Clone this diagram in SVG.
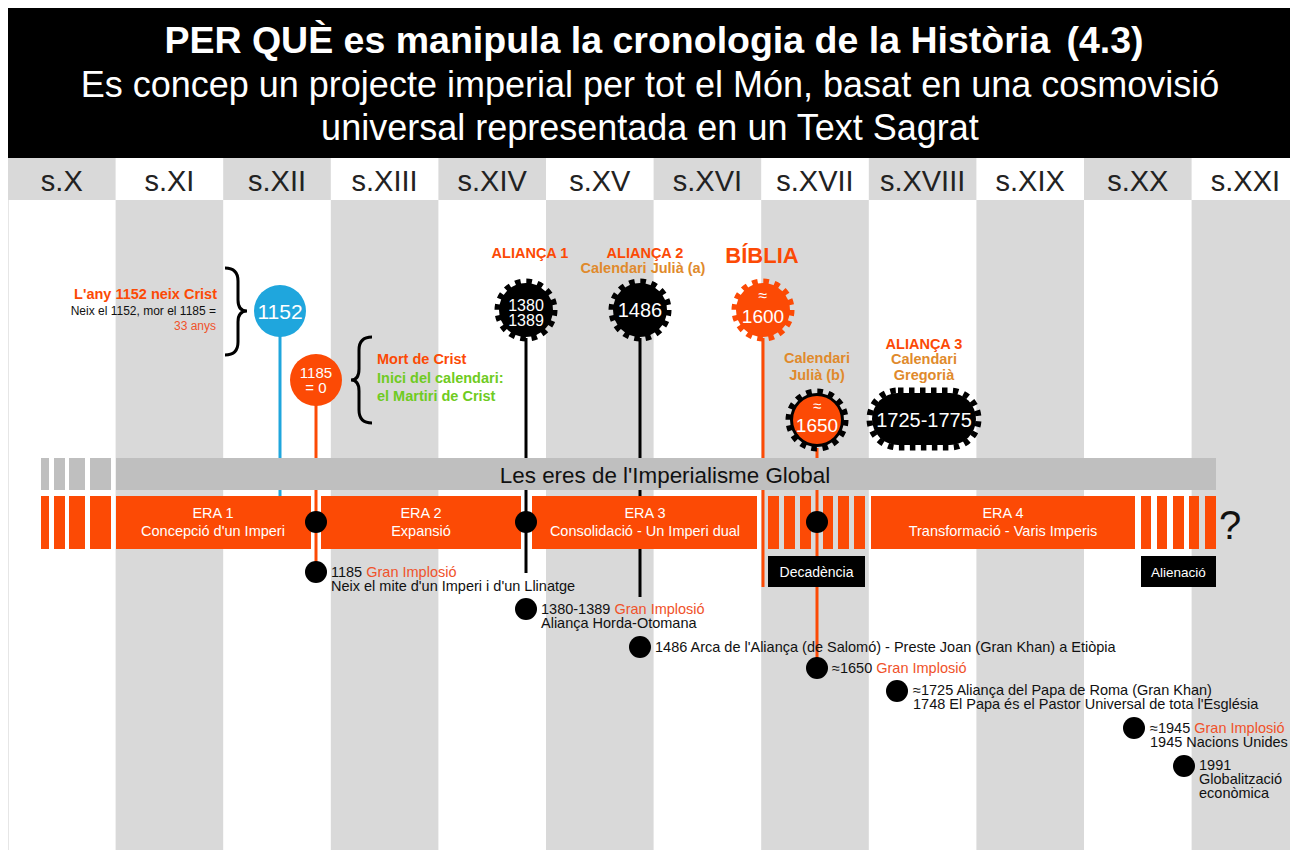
<svg xmlns="http://www.w3.org/2000/svg" width="1290" height="850" viewBox="0 0 1290 850">
<defs>
<style>
text{font-family:"Liberation Sans",Arial,sans-serif}
.hd{fill:#fff;font-size:36px}
.ttl{fill:#fff;font-size:37.5px;font-weight:bold}
.cent{fill:#222;font-size:29px;text-anchor:middle}
.era{fill:#fff;font-size:14.5px;text-anchor:middle}
.lbl{fill:#111;font-size:14.5px}
.or{fill:#f0522a}
.ob{fill:#fc4a05;font-weight:bold}
.am{fill:#e08a2c;font-weight:bold;font-size:14.5px;text-anchor:middle}
.gr{fill:#6fcb22;font-weight:bold;font-size:14.5px}
.gn{fill:#fff;text-anchor:middle}
.gcol{fill:#d9d9d9}
.orng{fill:#fc4a05}
.gband{fill:#bfbfbf}
.dot{fill:#000}
.ln{stroke-width:3;fill:none}
</style>
</defs>
<rect x="0" y="0" width="1290" height="850" fill="#fff"/>
<g id="columns">
<rect class="gcol" x="115.6" y="200" width="107.6" height="650"/>
<rect class="gcol" x="330.8" y="200" width="107.6" height="650"/>
<rect class="gcol" x="546" y="200" width="107.6" height="650"/>
<rect class="gcol" x="761.2" y="200" width="107.6" height="650"/>
<rect class="gcol" x="976.4" y="200" width="107.6" height="650"/>
<rect class="gcol" x="1191.6" y="200" width="107.6" height="650"/>
<line x1="8.5" y1="158" x2="8.5" y2="850" stroke="#e6e6e6" stroke-width="1"/>
</g>
<g id="header">
<rect x="8" y="8" width="1282" height="150" fill="#000"/>
<text class="ttl" x="654" y="53" text-anchor="middle">PER QUÈ es manipula la cronologia de la Història <tspan dx="6">(4.3)</tspan></text>
<text class="hd" x="650" y="97" text-anchor="middle">Es concep un projecte imperial per tot el Món, basat en una cosmovisió</text>
<text class="hd" x="650" y="140" text-anchor="middle">universal representada en un Text Sagrat</text>
</g>
<g id="centuries">
<rect class="gcol" x="8" y="158" width="107.6" height="42"/>
<rect class="gcol" x="223.2" y="158" width="107.6" height="42"/>
<rect class="gcol" x="438.4" y="158" width="107.6" height="42"/>
<rect class="gcol" x="653.6" y="158" width="107.6" height="42"/>
<rect class="gcol" x="868.8" y="158" width="107.6" height="42"/>
<rect class="gcol" x="1084" y="158" width="107.6" height="42"/>
<text class="cent" x="61.8" y="191">s.X</text>
<text class="cent" x="169.4" y="191">s.XI</text>
<text class="cent" x="277" y="191">s.XII</text>
<text class="cent" x="384.6" y="191">s.XIII</text>
<text class="cent" x="492.2" y="191">s.XIV</text>
<text class="cent" x="599.8" y="191">s.XV</text>
<text class="cent" x="707.4" y="191">s.XVI</text>
<text class="cent" x="815" y="191">s.XVII</text>
<text class="cent" x="922.6" y="191">s.XVIII</text>
<text class="cent" x="1030.2" y="191">s.XIX</text>
<text class="cent" x="1137.8" y="191">s.XX</text>
<text class="cent" x="1245.4" y="191">s.XXI</text>
</g>
<g id="connectors">
<line class="ln" x1="280" y1="336" x2="280" y2="497" stroke="#1fa6dd"/>
<line class="ln" x1="316" y1="405" x2="316" y2="572" stroke="#fc4a05"/>
<line class="ln" x1="526" y1="338" x2="526" y2="573" stroke="#000"/>
<line class="ln" x1="640" y1="338" x2="640" y2="597" stroke="#000"/>
<line class="ln" x1="763" y1="338" x2="763" y2="587" stroke="#fc4a05"/>
<line class="ln" x1="817" y1="448" x2="817" y2="668" stroke="#fc4a05"/>
</g>
<g id="band-global">
<rect class="gband" x="41" y="458" width="8" height="32"/>
<rect class="gband" x="54" y="458" width="11" height="32"/>
<rect class="gband" x="69" y="458" width="16" height="32"/>
<rect class="gband" x="90" y="458" width="21" height="32"/>
<rect class="gband" x="116" y="458" width="1100" height="32"/>
<text x="665" y="483" font-size="22.4" text-anchor="middle" fill="#111">Les eres de l'Imperialisme Global</text>
</g>
<g id="band-eras">
<rect class="orng" x="41" y="496" width="8" height="53"/>
<rect class="orng" x="54" y="496" width="11" height="53"/>
<rect class="orng" x="69" y="496" width="16" height="53"/>
<rect class="orng" x="90" y="496" width="21" height="53"/>
<rect class="orng" x="116" y="496" width="195" height="53"/>
<rect class="orng" x="321" y="496" width="200" height="53"/>
<rect class="orng" x="532" y="496" width="225" height="53"/>
<rect class="orng" x="768" y="496" width="11" height="53"/>
<rect class="orng" x="784" y="496" width="11" height="53"/>
<rect class="orng" x="800" y="496" width="11" height="53"/>
<rect class="orng" x="823" y="496" width="10" height="53"/>
<rect class="orng" x="838" y="496" width="11" height="53"/>
<rect class="orng" x="854" y="496" width="11" height="53"/>
<rect class="orng" x="871" y="496" width="264" height="53"/>
<rect class="orng" x="1141" y="496" width="10" height="53"/>
<rect class="orng" x="1157" y="496" width="10" height="53"/>
<rect class="orng" x="1173" y="496" width="11" height="53"/>
<rect class="orng" x="1189" y="496" width="10" height="53"/>
<rect class="orng" x="1205" y="496" width="11" height="53"/>
<text class="era" x="213" y="518">ERA 1</text>
<text class="era" x="213" y="536">Concepció d'un Imperi</text>
<text class="era" x="421" y="518">ERA 2</text>
<text class="era" x="421" y="536">Expansió</text>
<text class="era" x="645" y="518">ERA 3</text>
<text class="era" x="645" y="536">Consolidació - Un Imperi dual</text>
<text class="era" x="1003" y="518">ERA 4</text>
<text class="era" x="1003" y="536">Transformació - Varis Imperis</text>
<text x="1230" y="539" font-size="40" text-anchor="middle" fill="#111">?</text>
</g>
<g id="box-decadencia">
<rect x="768" y="556" width="97" height="31" fill="#000"/>
<text x="816.5" y="577" font-size="14" text-anchor="middle" fill="#fff">Decadència</text>
</g>
<g id="box-alienacio">
<rect x="1141" y="556" width="75" height="31" fill="#000"/>
<text x="1178.5" y="577" font-size="13.5" text-anchor="middle" fill="#fff">Alienació</text>
</g>
<g id="node-1152">
<path d="M225,268 Q238,268 238,281 L238,300 Q238,311 247,311 Q238,311 238,322 L238,342 Q238,355 225,355" stroke="#000" stroke-width="3" fill="none"/>
<text class="ob" x="217" y="299" font-size="14.5" text-anchor="end">L'any 1152 neix Crist</text>
<text x="216" y="315" font-size="12" text-anchor="end" fill="#111">Neix el 1152, mor el 1185 =</text>
<text x="216" y="330" font-size="12" text-anchor="end" class="or">33 anys</text>
<circle cx="280" cy="311" r="26" fill="#1fa6dd"/>
<text class="gn" x="280" y="319" font-size="21">1152</text>
</g>
<g id="node-1185">
<circle cx="316" cy="380" r="26" fill="#fc4a05"/>
<text class="gn" x="316" y="378" font-size="15">1185</text>
<text class="gn" x="316" y="393" font-size="15">= 0</text>
<path d="M372,337 Q359,337 359,350 L359,369 Q359,380 351,380 Q359,380 359,391 L359,410 Q359,423 372,423" stroke="#000" stroke-width="3" fill="none"/>
<text class="ob" x="377" y="364" font-size="14.5">Mort de Crist</text>
<text class="gr" x="377" y="383">Inici del calendari:</text>
<text class="gr" x="377" y="401">el Martiri de Crist</text>
</g>
<g id="node-1380">
<text class="ob" x="530" y="258" font-size="14.5" text-anchor="middle">ALIANÇA 1</text>
<circle cx="526" cy="310" r="27" fill="#000"/>
<circle cx="526" cy="310" r="28.5" fill="none" stroke="#000" stroke-width="6" stroke-dasharray="5.6 5.6"/>
<text class="gn" x="526" y="311" font-size="16">1380</text>
<text class="gn" x="526" y="326" font-size="16">1389</text>
</g>
<g id="node-1486">
<text class="ob" x="645" y="258" font-size="14.5" text-anchor="middle">ALIANÇA 2</text>
<text class="am" x="643" y="273">Calendari Julià (a)</text>
<circle cx="640" cy="310" r="27" fill="#000"/>
<circle cx="640" cy="310" r="28.5" fill="none" stroke="#000" stroke-width="6" stroke-dasharray="5.6 5.6"/>
<text class="gn" x="640" y="317" font-size="20">1486</text>
</g>
<g id="node-1600">
<text class="ob" x="762" y="263" font-size="22" text-anchor="middle">BÍBLIA</text>
<circle cx="763" cy="310" r="27" fill="#fc4a05"/>
<circle cx="763" cy="310" r="28.5" fill="none" stroke="#fc4a05" stroke-width="6" stroke-dasharray="5.6 5.6"/>
<text class="gn" x="763" y="301" font-size="16">≈</text>
<text class="gn" x="763" y="323" font-size="19">1600</text>
</g>
<g id="node-1650">
<text class="am" x="817" y="363">Calendari</text>
<text class="am" x="817" y="380">Julià (b)</text>
<circle cx="817" cy="420" r="27" fill="#000"/>
<circle cx="817" cy="420" r="28.5" fill="none" stroke="#000" stroke-width="6" stroke-dasharray="5.6 5.6"/>
<circle cx="817" cy="420" r="24" fill="#fc4a05"/>
<text class="gn" x="817" y="411" font-size="15">≈</text>
<text class="gn" x="817" y="432" font-size="19">1650</text>
</g>
<g id="node-1725">
<text class="ob" x="924" y="349" font-size="14.5" text-anchor="middle">ALIANÇA 3</text>
<text class="am" x="924" y="364">Calendari</text>
<text class="am" x="924" y="380">Gregorià</text>
<rect x="872" y="393" width="104" height="52" rx="26" fill="#000"/>
<rect x="869.5" y="390.5" width="109" height="57" rx="28.5" fill="none" stroke="#000" stroke-width="6" stroke-dasharray="5.5 5.5"/>
<text class="gn" x="924" y="427" font-size="20">1725-1775</text>
</g>
<g id="dots-band">
<circle class="dot" cx="316" cy="522" r="11"/>
<circle class="dot" cx="526" cy="522" r="11"/>
<circle class="dot" cx="817" cy="522" r="11"/>
</g>
<g id="event-1185">
<circle class="dot" cx="316" cy="572" r="11"/>
<text class="lbl" x="331" y="577">1185 <tspan class="or">Gran Implosió</tspan></text>
<text class="lbl" x="331" y="591">Neix el mite d'un Imperi i d'un Llinatge</text>
</g>
<g id="event-1380">
<circle class="dot" cx="526" cy="609" r="11"/>
<text class="lbl" x="541" y="614">1380-1389 <tspan class="or">Gran Implosió</tspan></text>
<text class="lbl" x="541" y="628">Aliança Horda-Otomana</text>
</g>
<g id="event-1486">
<circle class="dot" cx="640" cy="647" r="11"/>
<text class="lbl" x="655" y="652">1486 Arca de l'Aliança (de Salomó) - Preste Joan (Gran Khan) a Etiòpia</text>
</g>
<g id="event-1650">
<circle class="dot" cx="817" cy="668" r="11"/>
<text class="lbl" x="832" y="673">≈1650 <tspan class="or">Gran Implosió</tspan></text>
</g>
<g id="event-1725">
<circle class="dot" cx="897" cy="691" r="11"/>
<text class="lbl" x="913" y="695">≈1725 Aliança del Papa de Roma (Gran Khan)</text>
<text class="lbl" x="913" y="709">1748 El Papa és el Pastor Universal de tota l'Església</text>
</g>
<g id="event-1945">
<circle class="dot" cx="1134" cy="728" r="11"/>
<text class="lbl" x="1150" y="733">≈1945 <tspan class="or">Gran Implosió</tspan></text>
<text class="lbl" x="1150" y="747">1945 Nacions Unides</text>
</g>
<g id="event-1991">
<circle class="dot" cx="1184" cy="766" r="11"/>
<text class="lbl" x="1199" y="770">1991</text>
<text class="lbl" x="1199" y="784">Globalització</text>
<text class="lbl" x="1199" y="798">econòmica</text>
</g>
</svg>
